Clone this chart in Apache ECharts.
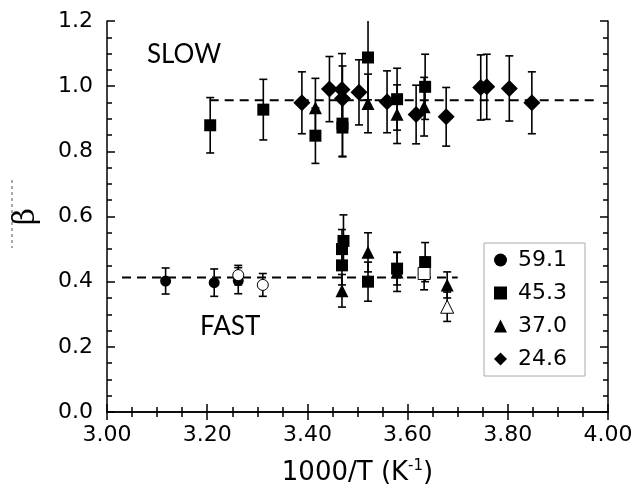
<!DOCTYPE html>
<html><head><meta charset="utf-8">
<script src="https://cdn.jsdelivr.net/npm/echarts@6/dist/echarts.min.js"></script>
<style>html,body{margin:0;padding:0;background:#fff}#c{width:634px;height:493px}</style>
</head><body><div id="c"></div>
<script>
// [x, beta, error]
const series591 = [[3.117,0.402,0.040],[3.214,0.397,0.042],[3.262,0.403,0.040]];
const series591Open = [[3.262,0.420,0.030],[3.311,0.390,0.035]];
const series453 = [[3.206,0.880,0.085],[3.312,0.928,0.093],[3.416,0.848,0.085],[3.470,0.885,0.100],[3.470,0.873,0.090],[3.521,1.088,0.130],[3.579,0.960,0.095],[3.635,0.998,0.100],
                   [3.472,0.525,0.080],[3.469,0.500,0.060],[3.469,0.450,0.060],[3.521,0.400,0.060],[3.579,0.440,0.050],[3.635,0.460,0.060]];
const series453Open = [[3.633,0.425,0.050]];
const series370 = [[3.416,0.934,0.090],[3.521,0.947,0.090],[3.579,0.914,0.090],[3.633,0.937,0.090],
                   [3.469,0.372,0.050],[3.521,0.490,0.060],[3.579,0.430,0.060],[3.679,0.390,0.040]];
const series370Open = [[3.679,0.323,0.045]];
const series246 = [[3.389,0.949,0.095],[3.444,0.991,0.100],[3.469,0.990,0.110],[3.470,0.962,0.100],[3.503,0.981,0.100],[3.559,0.952,0.095],[3.617,0.913,0.090],[3.677,0.906,0.090],[3.746,0.996,0.100],[3.758,0.998,0.100],[3.803,0.993,0.100],[3.848,0.949,0.095]];
const slowFit = [[3.205,0.957],[3.98,0.957]];
const fastFit = [[3.03,0.413],[3.70,0.413]];
const legendNames = ['59.1','45.3','37.0','24.6'];
const xTicks = {min:3.0, max:4.0, step:0.2};
const yTicks = {min:0.0, max:1.2, step:0.2};

const chart = echarts.init(document.getElementById('c'));
const FONT = 'DejaVu Sans';
function errBars(data){
  return {
    type:'custom', silent:true, clip:true, z:2,
    renderItem:function(params, api){
      const x=api.value(0), y=api.value(1), e=api.value(2);
      const top=api.coord([x,y+e]), bot=api.coord([x,y-e]);
      const cw=4;
      const st={stroke:'#000', lineWidth:1.6};
      return {type:'group', children:[
        {type:'line', shape:{x1:top[0],y1:top[1],x2:bot[0],y2:bot[1]}, style:st},
        {type:'line', shape:{x1:top[0]-cw,y1:top[1],x2:top[0]+cw,y2:top[1]}, style:st},
        {type:'line', shape:{x1:bot[0]-cw,y1:bot[1],x2:bot[0]+cw,y2:bot[1]}, style:st}
      ]};
    },
    encode:{x:0,y:1},
    data:data
  };
}
function pts(name, data, symbol, size, open){
  return {type:'scatter', name:name, data:data.map(d=>[d[0],d[1]]), symbol:symbol, symbolSize:size, z:5,
    itemStyle: open ? {color:'#fff', borderColor:'#000', borderWidth:1, opacity:1} : {color:'#000', opacity:1}};
}
function axisCommon(){ return {
  axisLine:{show:true, lineStyle:{color:'#000', width:1.5}},
  axisTick:{show:true, inside:true, length:8, lineStyle:{color:'#000', width:1.5}},
  minorTick:{show:true, splitNumber:4, length:5, lineStyle:{color:'#000', width:1.5}},
  splitLine:{show:false}
};}
const option = {
  animation:false,
  backgroundColor:'#fff',
  grid:{left:107, right:26, top:21, bottom:81, containLabel:false, outerBoundsMode:'none'},
  xAxis:[
    Object.assign({type:'value', position:'bottom', min:xTicks.min, max:xTicks.max, interval:xTicks.step,
      axisLabel:{color:'#000', fontFamily:FONT, fontSize:22, margin:12, formatter:v=>v.toFixed(2)},
      name:'{a|1000/T (K}{s|-1}{a|)}', nameLocation:'middle', nameGap:47,
      nameTextStyle:{rich:{a:{fontFamily:FONT, fontSize:26, color:'#000'}, s:{fontFamily:FONT, fontSize:15, color:'#000', verticalAlign:'top', padding:[0,0,14,0]}}}
    }, axisCommon()),
    Object.assign({type:'value', position:'top', min:xTicks.min, max:xTicks.max, interval:xTicks.step, axisLabel:{show:false}}, axisCommon())
  ],
  yAxis:[
    Object.assign({type:'value', position:'left', min:yTicks.min, max:yTicks.max, interval:yTicks.step,
      axisLabel:{color:'#000', fontFamily:FONT, fontSize:22, margin:14, formatter:v=>v.toFixed(1)},
      name:'β', nameLocation:'middle', nameRotate:90, nameGap:66,
      nameTextStyle:{fontFamily:'DejaVu Serif', fontSize:30, color:'#000'}
    }, axisCommon()),
    Object.assign({type:'value', position:'right', min:yTicks.min, max:yTicks.max, interval:yTicks.step, axisLabel:{show:false}}, axisCommon())
  ],
  legend:{
    data:legendNames.map((n,i)=>({name:n, icon:['circle','rect','triangle','diamond'][i]})),
    orient:'vertical', right:49, top:243, itemWidth:13, itemHeight:13, itemGap:11,
    padding:[6,18,6,10], borderColor:'#aaa', borderWidth:1,
    textStyle:{fontFamily:FONT, fontSize:22, lineHeight:22, color:'#000', padding:[0,0,0,6]}, selectedMode:false
  },
  graphic:[
    {type:'text', left:147, top:42, style:{text:'SLOW', font:'26px Lato', fill:'#000'}},
    {type:'text', left:200, top:314, style:{text:'FAST', font:'26px Lato', fill:'#000'}},
    {type:'line', shape:{x1:12, y1:180, x2:12, y2:248}, style:{stroke:'#555', lineWidth:1, lineDash:[3,3]}}
  ],
  series:[
    {type:'line', data:slowFit, symbol:'none', lineStyle:{color:'#000', width:2, type:[9,6]}, z:1, silent:true},
    {type:'line', data:fastFit, symbol:'none', lineStyle:{color:'#000', width:2, type:[9,6]}, z:1, silent:true},
    errBars(series591), errBars(series591Open), errBars(series453), errBars(series453Open),
    errBars(series370), errBars(series370Open), errBars(series246),
    pts('59.1', series591, 'circle', 11, false),
    pts('59.1o', series591Open, 'circle', 11, true),
    pts('45.3', series453, 'rect', 12, false),
    pts('45.3o', series453Open, 'rect', 12, true),
    pts('37.0', series370, 'triangle', 13, false),
    pts('37.0o', series370Open, 'triangle', 13, true),
    pts('24.6', series246, 'diamond', 17, false)
  ]
};
chart.setOption(option);
</script></body></html>
